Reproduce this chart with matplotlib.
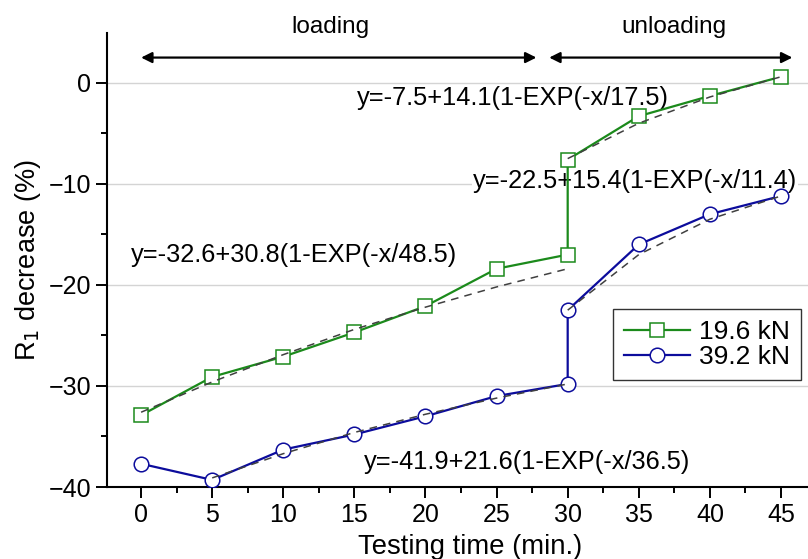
import matplotlib
matplotlib.use('Agg')
import matplotlib.pyplot as plt
from matplotlib.ticker import MultipleLocator

plt.rcParams['font.family'] = ['Liberation Sans', 'DejaVu Sans']

# measured points
time = [0, 5, 10, 15, 20, 25, 30, 30, 35, 40, 45]
r1_196 = [-32.9, -29.1, -27.1, -24.7, -22.1, -18.4, -17.0, -7.6, -3.3, -1.3, 0.6]
r1_392 = [-37.7, -39.3, -36.3, -34.8, -33.0, -31.0, -29.8, -22.5, -16.0, -13.0, -11.2]

# fitted curves
fit_load_196_x = [0, 5, 10, 15, 20, 25, 30]
fit_load_196_y = [-32.6, -29.6, -26.9, -24.4, -22.2, -20.2, -18.4]
fit_unload_196_x = [30, 35, 40, 45]
fit_unload_196_y = [-7.5, -4.0, -1.4, 0.6]
fit_load_392_x = [5, 10, 15, 20, 25, 30]
fit_load_392_y = [-39.1, -36.7, -34.6, -32.8, -31.2, -29.8]
fit_unload_392_x = [30, 35, 40, 45]
fit_unload_392_y = [-22.5, -17.0, -13.5, -11.2]

eqs = ['y=-7.5+14.1(1-EXP(-x/17.5)',
       'y=-22.5+15.4(1-EXP(-x/11.4)',
       'y=-32.6+30.8(1-EXP(-x/48.5)',
       'y=-41.9+21.6(1-EXP(-x/36.5)']
eq_pos = [(15.2, -1.5), (23.35, -9.7), (-0.7, -17.0), (15.7, -37.5)]

green = '#1b8a1b'
blue = '#0c0c9c'

fig = plt.figure(figsize=(8.08, 5.59), dpi=100)
ax = fig.add_axes([0.1324, 0.1288, 0.8676, 0.8116])

# dashed fits
for fx, fy in [(fit_load_196_x, fit_load_196_y), (fit_unload_196_x, fit_unload_196_y),
               (fit_load_392_x, fit_load_392_y), (fit_unload_392_x, fit_unload_392_y)]:
    ax.plot(fx, fy, '--', color='#404040', lw=1.1, dashes=(5, 4), zorder=4)

ax.plot(time, r1_196, '-s', color=green, lw=1.6, ms=9.5, mfc='white', mec=green,
        mew=1.1, label='19.6 kN', zorder=3)
ax.plot(time, r1_392, '-o', color=blue, lw=1.6, ms=10.5, mfc='white', mec=blue,
        mew=1.1, label='39.2 kN', zorder=3)

for s, (x, y) in zip(eqs, eq_pos):
    ax.text(x, y, s, fontsize=18.3, ha='left', va='center', zorder=2.5,
            bbox=dict(facecolor='white', edgecolor='none', pad=0.5))

# loading / unloading arrows
arrow = dict(arrowstyle='<|-|>', color='black', lw=1.6, mutation_scale=16,
             shrinkA=0, shrinkB=0)
ax.annotate('', xy=(0, 2.5), xytext=(27.8, 2.5), arrowprops=arrow, annotation_clip=False)
ax.annotate('', xy=(28.7, 2.5), xytext=(45.8, 2.5), arrowprops=arrow, annotation_clip=False)
ax.text(13.3, 5.5, 'loading', fontsize=17.5, ha='center', va='center', clip_on=False)
ax.text(37.5, 5.5, 'unloading', fontsize=17.5, ha='center', va='center', clip_on=False)

ax.set_xlim(-2.4, 46.9)
ax.set_ylim(-40, 4.9)
ax.xaxis.set_major_locator(MultipleLocator(5))
ax.xaxis.set_minor_locator(MultipleLocator(2.5))
ax.yaxis.set_major_locator(MultipleLocator(10))
ax.yaxis.set_minor_locator(MultipleLocator(5))
ax.tick_params(which='major', direction='out', length=8, width=1.4, labelsize=18)
ax.tick_params(which='minor', direction='out', length=4.5, width=1.4)

for side in ['top', 'right']:
    ax.spines[side].set_visible(False)
for side in ['left', 'bottom']:
    ax.spines[side].set_linewidth(1.5)

ax.set_axisbelow(True)
ax.yaxis.grid(True, which='major', color='#d4d4d4', lw=1.0)

ax.set_xlabel('Testing time (min.)', fontsize=19.8, labelpad=5)
ax.xaxis.label.set_x(0.518)
ax.set_ylabel('R$_1$ decrease (%)', fontsize=19.5, labelpad=4)

leg = ax.legend(loc='upper left', bbox_to_anchor=(0.722, 0.392), fontsize=19,
                frameon=True, fancybox=False, edgecolor='black', handlelength=2.5,
                borderpad=0.42, labelspacing=0.02, handletextpad=0.35, borderaxespad=0)
leg.get_frame().set_linewidth(1.0)

fig.savefig('out.png', dpi=100)
